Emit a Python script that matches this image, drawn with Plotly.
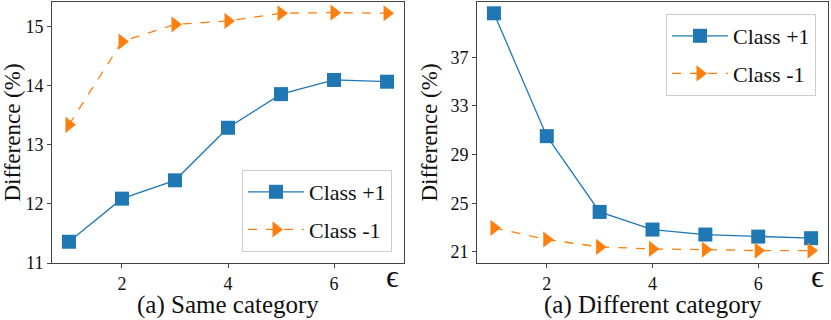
import plotly.graph_objects as go
from plotly.subplots import make_subplots

# === DATA ===
eps = [1, 2, 3, 4, 5, 6, 7]

same_pos = [11.36, 12.09, 12.40, 13.29, 13.86, 14.10, 14.07]
same_neg = [13.34, 14.75, 15.04, 15.10, 15.23, 15.24, 15.23]

diff_pos = [40.62, 30.52, 24.29, 22.84, 22.43, 22.26, 22.13]
diff_neg = [22.98, 22.02, 21.41, 21.25, 21.19, 21.11, 21.11]

xticks = [2, 4, 6]
same_yticks = [11, 12, 13, 14, 15]
diff_yticks = [21, 25, 29, 33, 37]

subtitles = ["(a) Same category", "(a) Different category"]

BLUE = "#1f77b4"
ORANGE = "#ff7f0e"
FONT = "Liberation Serif"

fig = make_subplots(rows=1, cols=2)

panels = [(same_pos, same_neg, 1), (diff_pos, diff_neg, 2)]
for pos, neg, col in panels:
    leg = "legend" if col == 1 else "legend2"
    fig.add_trace(go.Scatter(
        x=eps, y=pos, mode="lines+markers", name="Class +1",
        line=dict(color=BLUE, width=1.3),
        marker=dict(symbol="square", size=14, color=BLUE),
        legend=leg, legendgroup=f"pos{col}",
    ), row=1, col=col)
    fig.add_trace(go.Scatter(
        x=eps, y=neg, mode="lines+markers", name="Class -1",
        line=dict(color=ORANGE, width=1.3, dash="dash"),
        marker=dict(symbol="triangle-right", size=14, color=ORANGE),
        legend=leg, legendgroup=f"neg{col}",
    ), row=1, col=col)

axis_common = dict(
    showline=True, linecolor="#444", linewidth=1, mirror=True,
    ticks="outside", ticklen=4, tickcolor="#444", showgrid=False,
    zeroline=False, automargin=False,
    tickfont=dict(family=FONT, size=18, color="#111"),
)

fig.update_xaxes(**axis_common, tickvals=xticks, range=[0.68, 7.32])
fig.update_xaxes(domain=[52 / 831, 404 / 831], row=1, col=1)
fig.update_xaxes(domain=[477 / 831, 828 / 831], row=1, col=2)

ytitle = dict(text="Difference (%)", font=dict(family=FONT, size=23, color="#111"),
              standoff=6)
fig.update_yaxes(**axis_common, domain=[1 - 263 / 320, 1 - 2 / 320], title=ytitle)
fig.update_yaxes(tickvals=same_yticks, range=[11, 15.42], row=1, col=1)
fig.update_yaxes(tickvals=diff_yticks, range=[20.09, 41.55], row=1, col=2)

legend_style = dict(
    font=dict(family=FONT, size=22, color="#111"),
    bgcolor="white", bordercolor="#ccc", borderwidth=1,
    itemwidth=56, tracegroupgap=6,
)
fig.update_layout(
    legend=dict(**legend_style, x=392 / 831, y=1 - 252 / 320,
                xanchor="right", yanchor="bottom"),
    legend2=dict(**legend_style, x=816 / 831, y=1 - 14 / 320,
                 xanchor="right", yanchor="top"),
)

# subplot captions and the epsilon axis label
for text, cx in zip(subtitles, [228, 653]):
    fig.add_annotation(text=text, x=cx / 831, y=1 - 305 / 320, xref="paper", yref="paper",
                       showarrow=False, font=dict(family=FONT, size=25, color="#111"),
                       xanchor="center", yanchor="middle")
for ex in [392, 817]:
    fig.add_annotation(text="ϵ", x=ex / 831, y=1 - 276 / 320, xref="paper", yref="paper",
                       showarrow=False, font=dict(family=FONT, size=32, color="#111"),
                       xanchor="center", yanchor="middle")

fig.update_layout(
    width=831, height=320,
    margin=dict(l=0, r=0, t=0, b=0),
    font=dict(family=FONT, color="#111"),
    paper_bgcolor="white", plot_bgcolor="white",
)

# drop the page's default body margin so the figure sits at the window's corner
fig.write_html("out.html", post_script="document.body.style.margin='0';",
               config={"displayModeBar": False})
